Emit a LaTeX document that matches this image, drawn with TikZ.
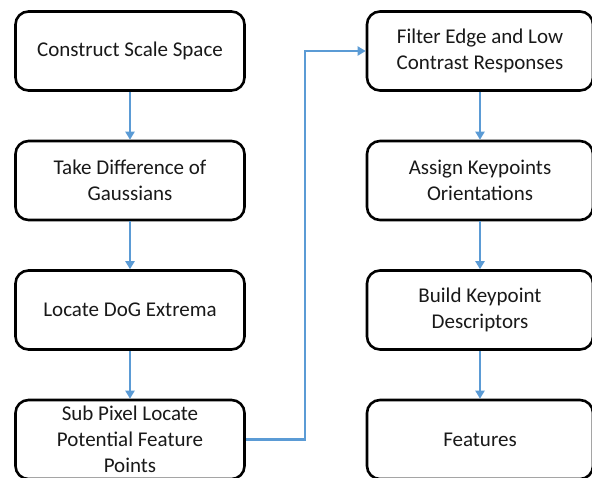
\documentclass[tikz,border=0pt]{standalone}
\usepackage{fontspec}
\setmainfont{Carlito}
\usetikzlibrary{arrows.meta}
\definecolor{flowblue}{HTML}{5B9BD5}
\tikzset{
  stepbox/.style={draw=black, line width=2.6pt, rounded corners=13pt, fill=white,
    minimum width=229pt, minimum height=79pt, align=center, inner sep=2pt,
    font=\fontsize{21}{26}\selectfont, text=black!90},
  flow/.style={draw=flowblue, line width=2.4pt,
    -{Triangle[length=8pt,width=9pt]}}
}
\begin{document}
\begin{tikzpicture}[x=1pt,y=-1pt]
  \useasboundingbox (0,0) rectangle (592,477);
  \clip (0,0) rectangle (592,477);
  % left column
  \node[stepbox] (cs) at (130,51) {Construct Scale Space};
  \node[stepbox] (dg) at (130,180.5) {Take Difference of\\Gaussians};
  \node[stepbox] (ex) at (130,310) {Locate DoG Extrema};
  \node[stepbox] (sp) at (130,439.5) {Sub Pixel Locate\\Potential Feature\\Points};
  % right column
  \node[stepbox, minimum width=226pt] (fe) at (480,51) {Filter Edge and Low\\Contrast Responses};
  \node[stepbox, minimum width=226pt] (ao) at (480,180.5) {Assign Keypoints\\Orientations};
  \node[stepbox, minimum width=226pt] (kd) at (480,310) {Build Keypoint\\Descriptors};
  \node[stepbox, minimum width=226pt] (ft) at (480,439.5) {Features};
  % connectors
  \draw[flow] (cs.south) -- (dg.north);
  \draw[flow] (dg.south) -- (ex.north);
  \draw[flow] (ex.south) -- (sp.north);
  \coordinate (jx) at (305,0);
  \draw[flow] (sp.east) -| (jx |- fe.west) -- (fe.west);
  \draw[flow] (fe.south) -- (ao.north);
  \draw[flow] (ao.south) -- (kd.north);
  \draw[flow] (kd.south) -- (ft.north);
\end{tikzpicture}
\end{document}
